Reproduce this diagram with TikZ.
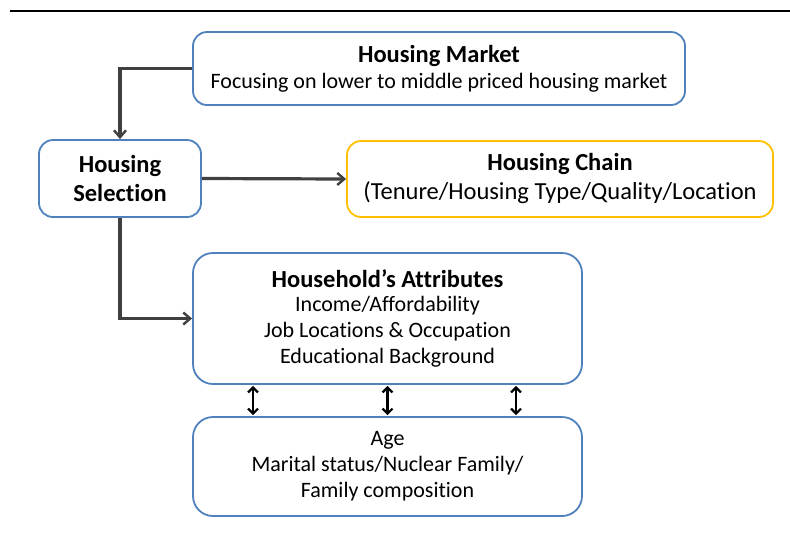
\documentclass[tikz,border=0pt]{standalone}
\usepackage{fontspec}
\setmainfont[RawFeature=-liga]{Carlito}
\usetikzlibrary{arrows.meta,calc}
\definecolor{boxblue}{HTML}{4F81BD}
\definecolor{boxgold}{HTML}{FFC000}
\definecolor{conn}{HTML}{404040}
\newcommand{\bigtxt}{\fontsize{24.5}{29}\selectfont}
\tikzset{
  box/.style={draw=boxblue, line width=1.8pt, rounded corners=14pt, fill=white, align=center, inner sep=0pt, font=\fontsize{22}{26}\selectfont},
  goldbox/.style={box, draw=boxgold},
  connector/.style={draw=conn, line width=3.2pt, -{Straight Barb[length=7pt,width=12pt,line width=2.4pt]}},
  dbl/.style={draw=black, line width=2.6pt, {Straight Barb[length=5pt,width=10pt,line width=2.2pt]}-{Straight Barb[length=5pt,width=10pt,line width=2.2pt]}}
}
\begin{document}
\begin{tikzpicture}[x=1pt,y=-1pt]
\useasboundingbox (0,0) rectangle (790,547);
\draw[line width=2pt] (10,11) -- (790,11);
\node[box, minimum width=492pt, minimum height=73pt] (market) at (439,68.5)
  {{\bigtxt\textbf{Housing Market}}\\[0pt]Focusing on lower to middle priced housing market};
\node[box, minimum width=162pt, minimum height=77pt, font=\bigtxt] (select) at (120,178.5)
  {\textbf{Housing}\\\textbf{Selection}};
\node[goldbox, minimum width=426pt, minimum height=76pt, font=\bigtxt] (chain) at (560,179)
  {\textbf{Housing Chain}\\(Tenure/Housing Type/Quality/Location};
\node[box, rounded corners=20pt, minimum width=389pt, minimum height=131pt] (attr) at (387.5,318.5)
  {{\bigtxt\textbf{Household’s Attributes}}\\[-2pt]Income/Affordability\\Job Locations \& Occupation\\Educational Background};
\node[box, rounded corners=20pt, minimum width=389pt, minimum height=99pt] (age) at (387.5,466.5)
  {Age\\Marital status/Nuclear Family/\\Family composition};
\coordinate (mkl) at (market.west);
\draw[connector] (mkl) -| (select.north);
\draw[connector] (select.east) -- (chain.west);
\draw[connector] (select.south) |- (attr.west);
\foreach \dx/\n in {-134.5/a,0/b,128.5/c}{
  \coordinate (t\n) at ([xshift=\dx pt]attr.south);
  \coordinate (b\n) at ([xshift=\dx pt]age.north);
  \draw[dbl] ([yshift=-1pt]t\n) -- ([yshift=1pt]b\n);
}
\end{tikzpicture}
\end{document}
